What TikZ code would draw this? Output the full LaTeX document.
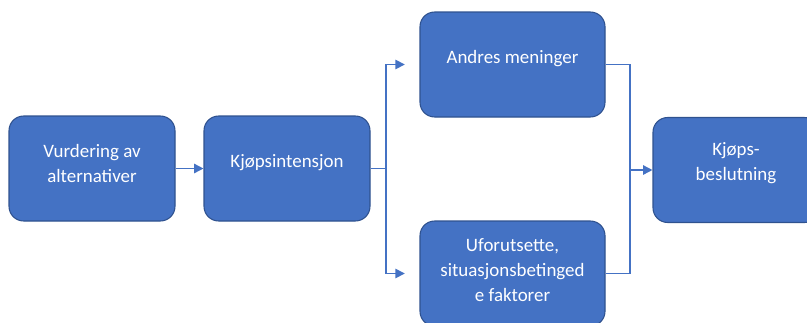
\documentclass[tikz,border=0pt]{standalone}
\usepackage{fontspec}
\setmainfont{Carlito}
\usetikzlibrary{arrows.meta,calc}
\definecolor{boxfill}{HTML}{4472C4}
\definecolor{boxdraw}{HTML}{2F528F}
\definecolor{linecol}{HTML}{4472C4}
\begin{document}
\begin{tikzpicture}[x=0.75pt,y=-0.75pt,
    box/.style={draw=boxdraw,fill=boxfill,line width=0.8pt,rounded corners=11pt,minimum width=124.5pt,minimum height=78.75pt,inner sep=0pt},
    boxtext/.style={text=white,align=center,font=\fontsize{14.2}{18.5}\selectfont},
    conn/.style={draw=linecol,line width=1.1pt},
    arr/.style={conn,-{Triangle[length=7pt,width=7pt]}}]
    \useasboundingbox (0,0) rectangle (807,322);
    \begin{scope}
        \clip (0,0) rectangle (807,322);
        % boxes
        \node[box] (vurd) at (92,168.5) {};
        \node[box] (kjop) at (287,168.5) {};
        \node[box, minimum width=138.75pt] (andres) at (512.5,64.5) {};
        \node[box, minimum width=138.75pt] (ufor) at (512.5,273.5) {};
        \node[box] (beslut) at (736,170) {};

        % texts, set a little above the middle
        \node[boxtext] (vurdtxt) at ([yshift=4pt]vurd.center) {Vurdering av\\alternativer};
        \node[boxtext] (kjoptxt) at ([yshift=4.5pt]kjop.center) {Kjøpsintensjon};
        \node[boxtext] (andrestxt) at ([yshift=4.5pt]andres.center) {Andres meninger};
        \node[boxtext] (ufortxt) at ([yshift=2.5pt]ufor.center) {Uforutsette,\\situasjonsbetinged\\e faktorer};
        \node[boxtext] (beslutttxt) at ([yshift=5pt]beslut.center) {Kjøps-\\beslutning};
    \end{scope}

    % connectors
    \coordinate (fork) at (386,168.5);
    \coordinate (merge) at (630,170);
    \draw[arr] (vurd) -- (kjop);
    \draw[conn] (kjop.east) -- (fork);
    \draw[arr, shorten >=11pt] (fork) |- (andres.west);
    \draw[arr, shorten >=11pt] (fork) |- (ufor.west);
    \draw[conn] (andres.east) -| (merge);
    \draw[conn] (ufor.east) -| (merge);
    \draw[arr] (merge) -- (beslut.west);
\end{tikzpicture}
\end{document}
